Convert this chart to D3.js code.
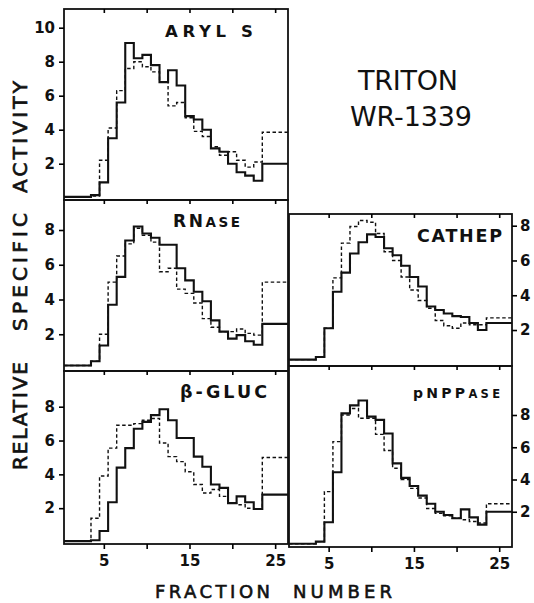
<!DOCTYPE html>
<html>
<head>
<meta charset="utf-8">
<script src="https://cdn.jsdelivr.net/npm/d3@7"></script>
<style>
  body { margin: 0; background: #fff; }
  text { font-family: "DejaVu Sans", sans-serif; fill: #111; }
</style>
</head>
<body>
<div id="chart"></div>
<script>
const width = 534;
const height = 603;

// bin edges in fraction number, last bin pools fractions 24-26
const binEdges = [0.35, 1.5, 2.5, 3.5, 4.5, 5.5, 6.5, 7.5, 8.5, 9.5, 10.5, 11.5, 12.5,
  13.5, 14.5, 15.5, 16.5, 17.5, 18.5, 19.5, 20.5, 21.5, 22.5, 23.5, 26.5];

// relative specific activity per bin (solid = control, dashed = triton)
const arylSolid = [0.05, 0.05, 0.05, 0.15, 0.9, 3.5, 5.6, 9.1, 8.2, 8.4, 7.8, 6.8, 7.5, 6.6, 4.8, 4.6, 4.0, 2.9, 2.7, 2.0, 1.5, 1.3, 1.0, 2.0];
const arylDashed = [0.02, 0.02, 0.02, 0.1, 2.2, 4.1, 6.3, 7.6, 8.0, 7.7, 7.4, 6.8, 5.4, 5.6, 4.7, 3.9, 3.6, 3.0, 2.5, 2.7, 2.2, 1.8, 2.1, 3.85];
const rnaseSolid = [0.2, 0.2, 0.2, 0.45, 1.35, 3.7, 5.3, 7.4, 8.2, 7.8, 7.55, 7.15, 7.15, 5.8, 5.1, 4.45, 3.9, 2.8, 2.15, 1.75, 1.95, 1.6, 1.4, 2.6];
const rnaseDashed = [0.2, 0.2, 0.2, 0.45, 2.0, 5.0, 6.5, 7.2, 8.1, 7.7, 7.3, 5.6, 5.8, 4.6, 4.35, 3.8, 2.9, 2.4, 2.15, 2.15, 2.3, 2.05, 1.95, 5.0];
const glucSolid = [0.05, 0.05, 0.05, 0.1, 0.65, 2.35, 4.4, 5.55, 6.7, 7.1, 7.5, 7.85, 7.2, 6.15, 6.15, 5.05, 4.45, 3.4, 3.2, 2.3, 2.7, 2.35, 1.95, 2.8];
const glucDashed = [0.05, 0.05, 0.05, 1.4, 3.9, 5.55, 6.9, 6.9, 7.0, 7.2, 7.3, 5.85, 5.05, 4.75, 4.15, 3.4, 2.9, 3.1, 2.7, 2.3, 2.2, 2.0, 1.95, 5.0];
const cathepSolid = [0.3, 0.3, 0.3, 0.45, 2.1, 4.2, 5.3, 6.4, 7.05, 7.5, 7.35, 6.7, 6.3, 5.7, 5.05, 4.5, 3.35, 3.15, 2.95, 2.8, 2.75, 2.4, 2.0, 2.4];
const cathepDashed = [0.3, 0.3, 0.3, 0.45, 2.1, 5.0, 7.0, 7.95, 8.3, 8.2, 7.55, 6.5, 6.0, 5.05, 4.3, 3.7, 3.25, 2.55, 2.25, 2.1, 2.4, 2.3, 2.3, 2.7];
const pnppSolid = [0.02, 0.02, 0.02, 0.15, 1.35, 4.45, 8.1, 8.6, 8.9, 7.9, 7.7, 6.85, 5.0, 4.1, 3.6, 3.0, 2.5, 2.0, 1.8, 1.6, 2.15, 1.65, 1.2, 2.0];
const pnppDashed = [0.02, 0.02, 0.02, 0.15, 3.25, 6.35, 8.0, 8.4, 7.8, 7.8, 6.8, 5.8, 4.7, 4.0, 3.45, 2.85, 2.2, 1.9, 1.75, 1.6, 1.5, 1.4, 1.3, 2.5];

// axis ticks
const xTicks = [5, 10, 15, 20, 25];
const xTickLabels = [5, 15, 25];
const yTicksAryl = [2, 4, 6, 8, 10];
const yTicks = [2, 4, 6, 8];

// panel boxes: column, top/bottom of frame, pixel of value 0 and value 8
const panels = [
  { name: "aryl", col: 0, top: 9, bottom: 200, y0: 197.7, y8: 61.7, solid: arylSolid, dashed: arylDashed, ticks: yTicksAryl },
  { name: "rnase", col: 0, top: 200, bottom: 371, y0: 369, y8: 230, solid: rnaseSolid, dashed: rnaseDashed, ticks: yTicks },
  { name: "gluc", col: 0, top: 371, bottom: 544, y0: 542, y8: 406.7, solid: glucSolid, dashed: glucDashed, ticks: yTicks, xLabels: true },
  { name: "cathep", col: 1, top: 214, bottom: 366, y0: 364.8, y8: 225.7, solid: cathepSolid, dashed: cathepDashed, ticks: yTicks },
  { name: "pnpp", col: 1, top: 366, bottom: 547, y0: 544, y8: 415, solid: pnppSolid, dashed: pnppDashed, ticks: yTicks, xLabels: true }
];
const columns = [[64, 288], [289, 512]];

const svg = d3
  .select("#chart")
  .append("svg")
  .attr("width", width)
  .attr("height", height);

panels.forEach((p) => {
  const xScale = d3.scaleLinear().domain(d3.extent(binEdges)).range(columns[p.col]);
  const yScale = d3.scaleLinear().domain([0, 8]).range([p.y0, p.y8]);
  const g = svg.append("g").attr("class", "panel-" + p.name);

  const line = d3
    .line()
    .x((d) => xScale(d[0]))
    .y((d) => yScale(d[1]))
    .curve(d3.curveStepAfter);

  const toSteps = (vals) => {
    const pts = vals.map((v, i) => [binEdges[i], v]);
    pts.push([binEdges[binEdges.length - 1], vals[vals.length - 1]]);
    return pts;
  };

  //dashed first so the solid one sits on top
  g.append("path")
    .attr("d", line(toSteps(p.dashed)))
    .attr("fill", "none")
    .attr("stroke", "#111")
    .attr("stroke-width", 1.4)
    .attr("stroke-dasharray", "3.5,2.5");

  g.append("path")
    .attr("d", line(toSteps(p.solid)))
    .attr("fill", "none")
    .attr("stroke", "#111")
    .attr("stroke-width", 2.1);

  // frame
  g.append("rect")
    .attr("x", columns[p.col][0])
    .attr("y", p.top)
    .attr("width", columns[p.col][1] - columns[p.col][0])
    .attr("height", p.bottom - p.top)
    .attr("fill", "none")
    .attr("stroke", "#111")
    .attr("stroke-width", 1.8);

  // inward ticks on the top edge
  g.append("g")
    .attr("transform", "translate(0," + p.top + ")")
    .call(d3.axisBottom(xScale).tickValues(xTicks).tickSize(4).tickFormat(""))
    .call((a) => a.select(".domain").remove())
    .call((a) => a.selectAll("line").attr("stroke-width", 1.6));

  if (p.xLabels) {
    g.append("g")
      .attr("transform", "translate(0," + p.bottom + ")")
      .call(d3.axisBottom(xScale).tickValues(xTicks).tickSize(5).tickPadding(6)
        .tickFormat((d) => (xTickLabels.includes(d) ? d : "")))
      .call((a) => a.select(".domain").remove())
      .call((a) => a.selectAll("line").attr("stroke-width", 1.6))
      .call((a) => a.selectAll("text")
        .attr("font-size", 15)
        .attr("font-weight", "bold")
        .attr("font-family", "DejaVu Sans"));
  }

  // y axis, outside of the frame
  const yAxis = p.col === 0
    ? d3.axisLeft(yScale).tickValues(p.ticks).tickSize(5).tickPadding(4)
    : d3.axisRight(yScale).tickValues(p.ticks).tickSize(5).tickPadding(3);
  g.append("g")
    .attr("transform", "translate(" + (p.col === 0 ? columns[0][0] : columns[1][1]) + ",0)")
    .call(yAxis)
    .call((a) => a.select(".domain").remove())
    .call((a) => a.selectAll("line").attr("stroke-width", 1.6))
    .call((a) => a.selectAll("text")
      .attr("font-size", 15)
      .attr("font-weight", "bold")
      .attr("font-family", "DejaVu Sans"));
});

// panel titles
const title = (x, y, parts, len) => {
  const t = svg.append("text")
    .attr("x", x)
    .attr("y", y)
    .attr("font-weight", "bold")
    .attr("textLength", len)
    .attr("lengthAdjust", "spacing");
  parts.forEach((pt) => t.append("tspan").attr("font-size", pt[1]).text(pt[0]));
};
title(165, 37, [["ARYL  S", 16.5]], 88);
title(173, 227, [["RN", 17], ["ASE", 13.5]], 67);
title(180, 398, [["β-GLUC", 17.5]], 87);
title(417, 242, [["CATHEP", 17.5]], 85);
title(413, 398, [["pNPP", 14], ["ASE", 11.5]], 87);

svg.append("text")
  .attr("x", 358).attr("y", 90)
  .attr("font-size", 27)
  .attr("textLength", 100).attr("lengthAdjust", "spacing")
  .text("TRITON");
svg.append("text")
  .attr("x", 350).attr("y", 126)
  .attr("font-size", 27)
  .attr("textLength", 122).attr("lengthAdjust", "spacing")
  .text("WR-1339");

// axis titles, medium weight lettering
const yWords = [["ACTIVITY", 137, 112], ["SPECIFIC", 272, 118], ["RELATIVE", 416, 108]];
yWords.forEach((w) => {
  svg.append("text")
    .attr("transform", "translate(27," + w[1] + ") rotate(-90)")
    .attr("text-anchor", "middle")
    .attr("font-size", 20)
    .attr("stroke", "#111")
    .attr("stroke-width", 0.7)
    .attr("textLength", w[2]).attr("lengthAdjust", "spacing")
    .text(w[0]);
});

svg.append("text")
  .attr("x", 155).attr("y", 598)
  .attr("font-size", 18)
  .attr("stroke", "#111")
  .attr("stroke-width", 0.6)
  .attr("textLength", 115).attr("lengthAdjust", "spacing")
  .text("FRACTION");
svg.append("text")
  .attr("x", 293).attr("y", 598)
  .attr("font-size", 18)
  .attr("stroke", "#111")
  .attr("stroke-width", 0.6)
  .attr("textLength", 99).attr("lengthAdjust", "spacing")
  .text("NUMBER");
</script>
</body>
</html>
